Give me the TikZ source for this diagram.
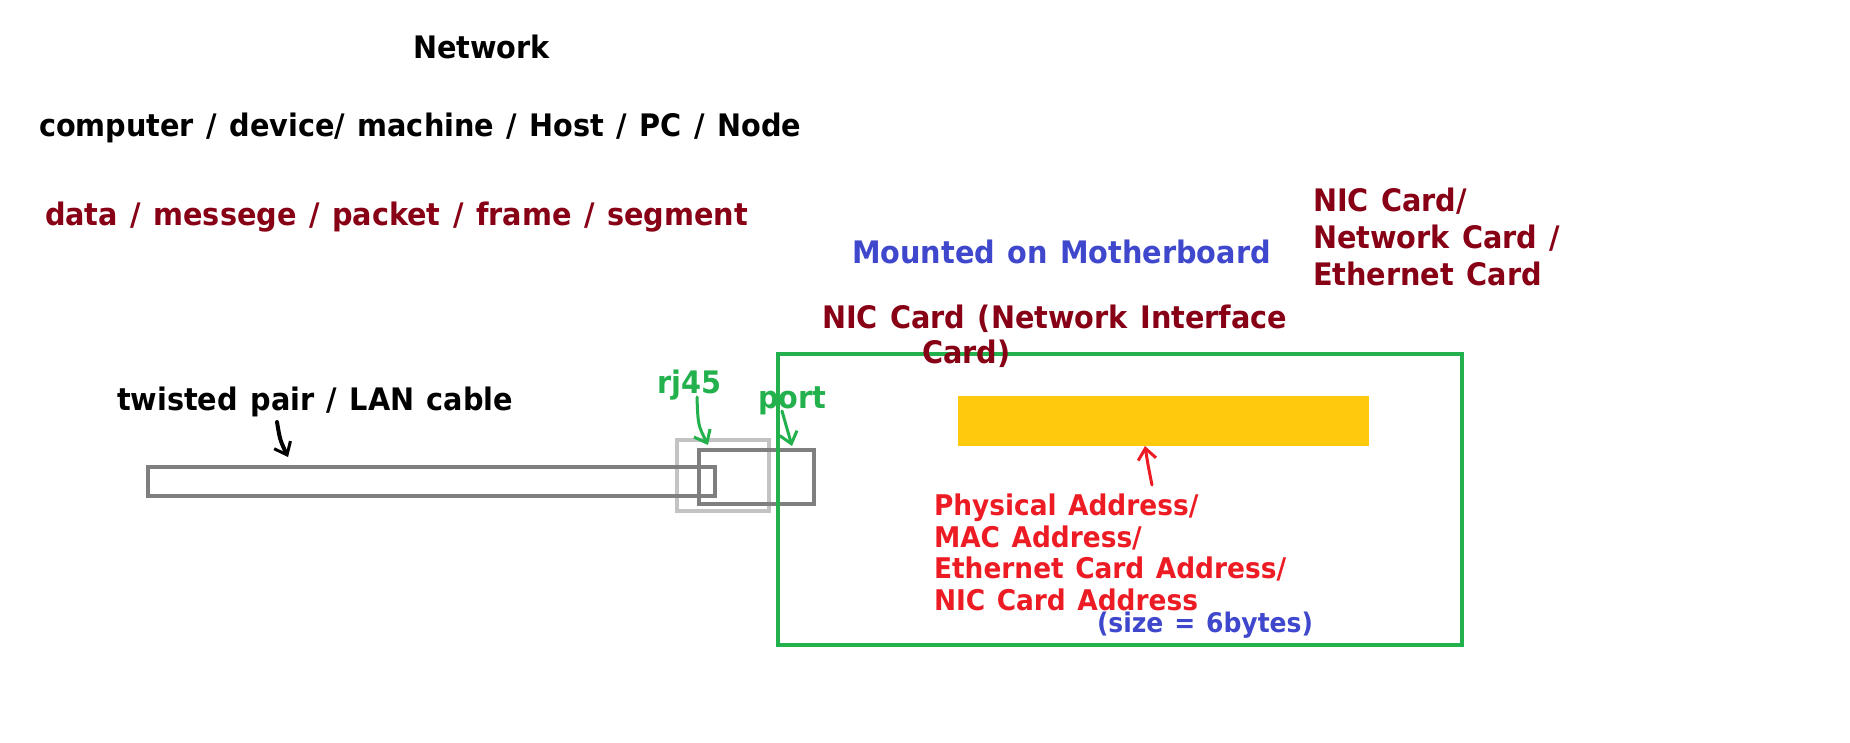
\documentclass[tikz,border=0pt]{standalone}
\usepackage{fontspec}
\setmainfont{DejaVu Sans Condensed}[WordSpace=1.25, FakeStretch=1.03]
\usetikzlibrary{arrows.meta}
\definecolor{dred}{HTML}{880015}
\definecolor{pblue}{HTML}{3F48CC}
\definecolor{pred}{HTML}{ED1C24}
\definecolor{pgreen}{HTML}{22B14C}
\definecolor{pgray}{HTML}{7F7F7F}
\definecolor{plgray}{HTML}{C3C3C3}
\definecolor{pgold}{HTML}{FFC90E}
\newcommand{\bigtxt}{\fontsize{31}{37}\selectfont\bfseries}
\newcommand{\midtxt}{\fontsize{28.5}{34}\selectfont\bfseries}
\newcommand{\smalltxt}{\fontsize{27}{33}\selectfont\bfseries}
\tikzset{
  lbl/.style={inner sep=0pt, outer sep=0pt, anchor=base west, font=\bigtxt},
  midlbl/.style={lbl, font=\midtxt},
  smalllbl/.style={lbl, font=\smalltxt},
  box/.style={line width=4pt},
  hand/.style={line width=3pt, line cap=round, line join=round, -{Straight Barb[length=11pt,width=18pt,line width=3pt]}}
}
\begin{document}
\begin{tikzpicture}[x=1pt,y=-1pt]
\useasboundingbox (0,0) rectangle (1850,743);
\fill[white] (0,0) rectangle (1850,743);

% heading texts
\node[lbl] (net) at (413,59) {Network};
\node[lbl] (comp) at (39,137) {computer / device/ machine / Host / PC / Node};
\node[lbl, text=dred] (data) at (45,226) {data / messege / packet / frame / segment};
\node[lbl, text=pblue] (mount) at (852,264) {Mounted on Motherboard};
\node[lbl, text=dred] (alt1) at (1313,212) {NIC Card/};
\node[lbl, text=dred] (alt2) at (1313,249) {Network Card /};
\node[lbl, text=dred] (alt3) at (1313,286) {Ethernet Card};

% shapes
\draw[box, plgray] (677,440) rectangle (769,511);
\node[draw=pgray, box, inner sep=0pt, minimum width=567pt, minimum height=29pt, anchor=north west] (cable) at (146,465) {};
\node[draw=pgray, box, inner sep=0pt, minimum width=115pt, minimum height=54pt, anchor=north west] (port) at (697,448) {};
\node[draw=pgreen, box, inner sep=0pt, minimum width=684pt, minimum height=291pt, anchor=north west] (nic) at (776,352) {};
\node[fill=pgold, inner sep=0pt, minimum width=411pt, minimum height=50pt, anchor=north west] (chip) at (958,396) {};

\node[lbl, text=dred] (nicA) at (822,329) {NIC Card (Network Interface};
\node[lbl, text=dred] (nicB) at (922,363) {Card)};

% labels near cable
\node[lbl] (tw) at (117,410) {twisted pair / LAN cable};
\node[lbl, text=pgreen] (rj) at (657,393) {rj45};
\node[lbl, text=pgreen] (portl) at (758,408) {port};

% address texts
\node[midlbl, text=pred] (ph1) at (934,515) {Physical Address/};
\node[midlbl, text=pred] (ph2) at (934,547) {MAC Address/};
\node[midlbl, text=pred] (ph3) at (934,578) {Ethernet Card Address/};
\node[midlbl, text=pred] (ph4) at (934,610) {NIC Card Address};
\node[smalllbl, text=pblue] (size) at (1097,632) {(size = 6bytes)};

% hand-drawn arrows
\coordinate (twS) at (277,422);
\coordinate (twE) at (288,457);
\draw[hand, black, line width=4pt] (twS) .. controls (280,440) .. (twE);
\coordinate (rjS) at (697,397);
\coordinate (rjE) at (708,445);
\draw[hand, pgreen] (rjS) .. controls (698,425) .. (rjE);
\coordinate (poS) at (782,411);
\coordinate (poE) at (792,446);
\draw[hand, pgreen] (poS) .. controls (786,425) .. (poE);
\coordinate (adS) at (1152,485);
\coordinate (adE) at (1145,446);
\draw[hand, pred] (adS) .. controls (1148,465) .. (adE);
\end{tikzpicture}
\end{document}
